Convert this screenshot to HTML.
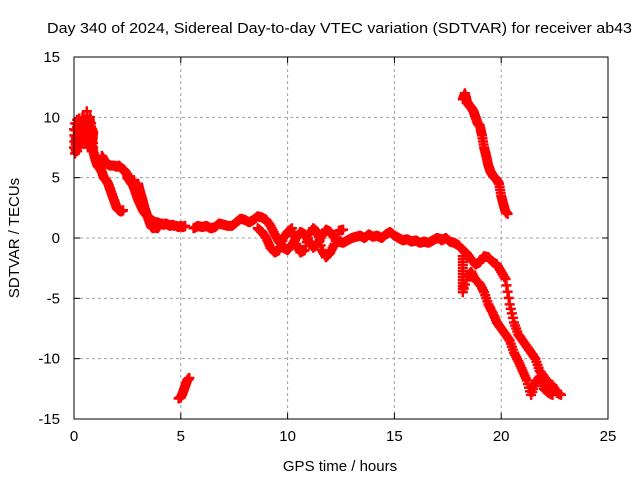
<!DOCTYPE html>
<html><head><meta charset="utf-8"><style>
body{margin:0;background:#fff;}
svg text{font-family:"Liberation Sans",sans-serif;font-size:15px;fill:#000;}
</style></head><body>
<svg id="chart" width="640" height="480" viewBox="0 0 640 480" xmlns="http://www.w3.org/2000/svg">
<text x="47" y="33" textLength="585" lengthAdjust="spacingAndGlyphs">Day 340 of 2024, Sidereal Day-to-day VTEC variation (SDTVAR) for receiver ab43</text>
<g id="grid"></g>
<g id="axes"></g>
<path id="marks" fill="none" stroke="#ff0000" stroke-width="2.5"></path>
<rect x="74" y="57" width="534" height="362" fill="none" stroke="#000" stroke-width="1"></rect>
<text x="340" y="471" text-anchor="middle">GPS time / hours</text>
<text transform="translate(19,238) rotate(-90)" text-anchor="middle">SDTVAR / TECUs</text>
</svg>
<script>
const xTicks=[0,5,10,15,20,25];
const yTicks=[-15,-10,-5,0,5,10,15];
const aX=[0,0.05,0.1,0.15,0.2,0.25,0.3,0.35,0.4,0.45,0.5,0.55,0.6,0.65,0.7,0.75,0.8,0.85,0.9];
const aY=[9,7,8.5,7.2,9.5,7.5,8.8,7.8,10,8.2,9.2,8,10.5,9,9.8,8.5,9.5,8,8.8];
const a2Y=[7.5,9.5,7.2,9.8,8,9.9,7.5,9.2,8.5,10,7.8,9.6,8.5,7.5,9,10,8.2,9,7.5];
const bX=[0.8,0.9,1.0,1.1,1.2,1.3,1.4,1.5,1.6,1.7,1.8,1.9,2.0,2.1,2.2,2.3];
const bY=[8,7.2,6.5,6,5.8,5.5,5,4.8,4.5,4,3.5,3,2.5,2.3,2.2,2.3];
const cX=[1.3,1.4,1.5,1.6,1.7,1.8,1.9,2.0,2.1,2.2,2.3,2.4,2.5,2.6,2.7,2.8,2.9,3.0,3.1,3.2,3.3,3.4,3.5,3.6,3.7,3.8,3.9,4.0,4.1,4.2,4.3,4.4,4.5,4.6,4.7,4.8,4.9,5.0,5.1,5.2];
const cY=[6.8,6.5,6.2,6.1,6,6,6,5.9,6,5.8,5.7,5.5,5.2,5,4.6,4.2,3.7,3.2,2.8,2.4,2.1,1.9,1.7,1.5,1.4,1.3,1.3,1.2,1.2,1.1,1.2,1.1,1,1.1,1,1,0.9,1,0.9,1];
const dX=[2.5,2.6,2.7,2.8,2.9,3.0,3.1,3.2,3.3,3.4,3.5,3.6,3.7,3.8,3.9,4.0];
const dY=[5,4.8,4.5,4.8,4.2,4.5,3.8,3.2,2.5,2,1.5,1,0.8,0.9,0.8,1];
const eX=[5.6,5.8,6.0,6.2,6.4,6.6,6.8,7.0,7.2,7.4,7.6,7.8,8.0,8.2,8.4,8.6,8.8,9.0,9.2,9.4,9.6,9.8,10.0,10.2,10.4,10.6,10.8,11.0,11.2,11.4,11.6,11.8,12.0,12.2,12.4,12.6,12.8,13.0,13.2,13.4,13.6,13.8,14.0,14.2,14.4,14.6,14.8,15.0,15.2,15.4,15.6,15.8,16.0,16.2,16.4,16.6,16.8,17.0,17.2];
const eY=[0.8,1,0.9,1,0.8,0.9,1.2,1.1,1,1,1.3,1.6,1.5,1.3,1.5,1.8,1.7,1.5,1,0.3,-0.3,-0.8,-1,-0.6,0,0.5,0.3,-0.3,-0.8,-0.5,0.2,0.7,0.5,0,-0.3,-0.4,-0.2,0,0.1,0.2,0,0.3,0.1,0.2,0,0.3,0.5,0.2,0,-0.2,-0.1,-0.3,-0.2,-0.4,-0.3,-0.4,-0.2,0,-0.1];
const fX=[8.6,8.8,9.0,9.2,9.4,9.6,9.8,10.0,10.2,10.4,10.6,10.8,11.0,11.2,11.4,11.6,11.8,12.0,12.2,12.4,12.6];
const fY=[0.8,0.5,0,-0.8,-1.2,-1,0,0.5,0.8,-0.5,-1.2,-1,0.3,0.8,0.5,-1,-1.6,-1.2,-0.5,0.6,0.7];
const gX=[17.2,17.4,17.6,17.8,18.0,18.2,18.4,18.6,18.8,19.0,19.2,19.4,19.6,19.8,20.0,20.2,20.4,20.6,20.8,21.0,21.2,21.4,21.6,21.8,22.0,22.2,22.4,22.6,22.8];
const gY=[-0.2,0,-0.3,-0.4,-0.6,-1,-1.3,-1.8,-2.2,-2,-1.5,-1.6,-2,-2.2,-2.8,-3.4,-5.5,-7,-8,-8.5,-9,-9.5,-10,-11,-11.5,-12,-12.2,-12.8,-13];
const hX=[18.2,18.4,18.6,18.8,19.0,19.2,19.4,19.6,19.8,20.0,20.2,20.4,20.6,20.8,21.0,21.2,21.4,21.6,21.8,22.0,22.2,22.4];
const hY=[-4.5,-3.2,-2.8,-3.5,-3.8,-4.5,-5.5,-6.2,-7,-7.5,-8,-8.5,-9.5,-10.2,-11,-11.8,-13,-12,-11.5,-12.5,-12.8,-13];
const kX=[18.2,18.2,18.2,18.2];
const kY=[-1.5,-2.5,-3.5,-4.5];
const iX=[18.2,18.3,18.4,18.5,18.6,18.7,18.8,18.9,19.0,19.1,19.2,19.3,19.4,19.5,19.6,19.7,19.8,19.9,20.0,20.1,20.2,20.3];
const iY=[11.5,12,11.3,11,10.8,10.5,10,9.5,9.3,8.5,7.5,6.8,6,5.5,5.2,5,4.8,4.5,3.5,2.8,2.2,2];
const jX=[4.9,5.0,5.1,5.2,5.3,5.4];
const jY=[-13.3,-13.2,-12.8,-12.3,-11.8,-11.6];
const series=[[aX,aY],[aX,a2Y],[bX,bY],[cX,cY],[dX,dY],[eX,eY],[fX,fY],[gX,gY],[hX,hY],[kX,kY],[iX,iY],[jX,jY]];

const L=74,R=608,T=57,B=419;
const sx=v=>L+(v-0)/(25-0)*(R-L);
const sy=v=>B-(v+15)/30*(B-T);
const NS="http://www.w3.org/2000/svg";
const grid=document.getElementById('grid'),axes=document.getElementById('axes');
function mk(tag,attrs,parent){const e=document.createElementNS(NS,tag);for(const k in attrs)e.setAttribute(k,attrs[k]);parent.appendChild(e);return e;}
xTicks.forEach(t=>{
  const x=sx(t);
  if(t>0&&t<25){const g=mk('line',{x1:x,x2:x,y1:T,y2:B,stroke:'#a0a0a0','stroke-dasharray':'3,3'},grid);
  
  }
  mk('line',{x1:x,x2:x,y1:B,y2:B-6,stroke:'#000'},axes);
  mk('line',{x1:x,x2:x,y1:T,y2:T+6,stroke:'#000'},axes);
  const tx=mk('text',{x:x,y:B+22,'text-anchor':'middle'},axes);tx.textContent=t;
  
  
});
yTicks.forEach(t=>{
  const y=sy(t);
  if(t>-15&&t<15){const g=mk('line',{x1:L,x2:R,y1:y,y2:y,stroke:'#a0a0a0','stroke-dasharray':'3,3'},grid);
  
  }
  mk('line',{x1:L,x2:L+6,y1:y,y2:y,stroke:'#000'},axes);
  mk('line',{x1:R,x2:R-6,y1:y,y2:y,stroke:'#000'},axes);
  const tx=mk('text',{x:L-14,y:y+5,'text-anchor':'end'},axes);tx.textContent=t;
  
  
});
let d='';
const plus=(x,y)=>{d+=`M${(x-5).toFixed(1)} ${y.toFixed(1)}h10M${x.toFixed(1)} ${(y-5).toFixed(1)}v10`;};
series.forEach(([xs,ys])=>{
  for(let i=0;i<xs.length;i++){
    const x=sx(xs[i]),y=sy(ys[i]);
    plus(x,y);
    if(i+1<xs.length){
      const x2=sx(xs[i+1]),y2=sy(ys[i+1]);
      for(let k=1;k<4;k++){plus(x+(x2-x)*k/4,y+(y2-y)*k/4);}
    }
  }
});
document.getElementById('marks').setAttribute('d',d);
</script>
</body></html>
